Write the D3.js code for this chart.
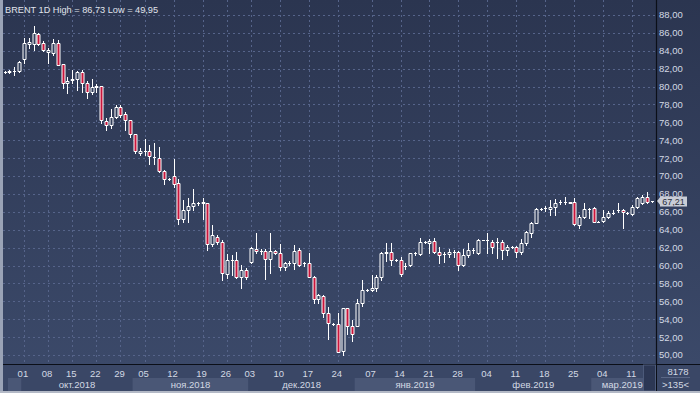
<!DOCTYPE html>
<html><head><meta charset="utf-8">
<script src="https://cdn.jsdelivr.net/npm/d3@7"></script>
<style>html,body{margin:0;padding:0;background:#323f5c;overflow:hidden}</style>
</head><body>
<svg id="c" width="700" height="393"></svg>
<script>
// ---- data ----
const title = "BRENT 1D High = 86,73 Low = 49,95";
const opens = [81.6,81.65,81.7,81.7,83.1,84.72,84.76,85.9,84.83,83.9,83.72,84.88,82.49,80.35,80.7,80.8,81.6,80.4,79.4,80.0,
80.1,76.19,75.7,76.64,77.7,76.9,76.26,74.7,72.6,72.8,72.8,72.15,72.0,70.6,69.7,70.0,69.19,65.2,66.2,66.6,
67.0,67.0,66.95,62.4,63.2,62.6,59.1,60.6,60.62,58.75,59.5,60.43,61.9,61.65,61.66,60.68,61.66,61.4,59.8,60.3,
60.3,61.7,60.25,60.24,58.75,56.22,56.6,54.74,53.5,53.45,50.4,55.2,53.25,53.24,55.85,57.3,57.3,57.5,58.68,61.4,
61.55,60.6,60.6,59.9,60.06,61.36,61.25,62.6,62.56,62.78,61.55,61.25,61.25,61.47,61.55,60.06,61.17,61.73,61.36,62.86,
62.86,62.67,62.6,62.6,61.73,62.1,62.1,61.55,62.5,63.6,64.72,66.32,66.4,66.32,66.58,67.07,67.07,67.03,67.07,64.53,
65.46,66.32,66.47,64.9,64.98,65.46,65.84,66.21,66.21,65.84,65.72,66.58,66.95,67.69,67.21];
const highs = [81.7,81.9,82.2,82.9,85.4,85.4,86.73,86.0,85.13,84.3,85.3,85.15,82.5,81.1,81.85,81.7,81.85,80.6,80.8,80.3,
80.1,76.52,77.46,77.9,77.96,77.2,76.3,74.7,73.1,74.1,73.5,73.66,73.2,70.7,69.8,71.87,69.7,67.3,67.5,68.5,
67.1,67.5,67.0,64.53,63.4,62.8,61.3,61.2,61.5,60.06,59.7,62.1,63.6,61.8,61.8,63.67,61.7,62.37,60.4,60.5,
62.3,62.0,60.4,61.36,58.8,56.8,56.7,55.32,53.6,54.65,55.3,55.3,53.9,56.3,58.38,57.4,58.94,58.9,61.55,62.48,
62.5,60.7,60.9,60.3,61.45,61.5,63.04,62.7,63.0,63.04,62.1,61.55,61.9,61.73,61.66,61.81,62.48,61.92,62.97,62.9,
63.6,62.9,63.04,62.86,62.3,62.2,62.18,63.0,63.9,64.9,66.47,66.4,66.69,67.32,67.43,67.32,67.69,67.1,67.51,65.65,
66.95,66.47,66.58,64.95,66.21,66.1,66.21,66.95,66.3,65.95,66.77,67.69,67.88,68.25,67.25];
const lows = [81.5,81.5,81.3,81.6,82.6,84.27,84.09,84.6,83.94,82.6,83.53,82.4,79.8,79.24,80.36,79.6,79.4,78.7,79.2,79.4,
75.9,75.15,75.33,76.5,76.6,75.1,74.4,72.55,72.3,72.3,71.4,71.4,70.5,69.1,69.55,68.8,64.66,64.9,64.9,66.2,
66.8,65.2,61.73,62.2,62.4,58.4,58.6,58.9,58.6,57.45,58.5,60.3,61.4,61.3,58.45,59.13,61.3,59.5,59.5,60.1,
59.6,60.0,60.0,58.7,55.85,55.85,54.28,51.8,53.4,50.3,49.95,52.3,51.56,53.2,55.5,57.2,57.1,57.1,58.4,60.5,
60.1,60.5,58.8,59.6,59.94,61.2,61.17,62.5,61.4,61.36,60.24,60.43,60.98,60.98,59.5,59.94,60.98,61.36,61.3,62.8,
61.36,61.36,60.79,60.7,61.17,62.0,60.98,61.3,62.3,63.23,64.72,66.25,66.1,65.65,65.65,66.84,66.84,66.95,64.53,64.23,
65.28,65.28,64.83,64.85,64.9,65.28,65.72,66.03,64.16,65.72,65.65,66.4,66.84,67.03,67.15];
const closes = [81.62,81.7,81.75,82.7,84.9,84.94,85.95,84.8,84.09,84.05,84.88,82.41,80.36,80.6,80.9,81.6,80.36,79.4,80.0,80.05,
76.26,75.71,76.56,77.7,76.82,76.26,74.66,72.8,72.8,72.85,72.2,72.1,70.6,69.63,69.72,69.1,65.16,66.2,66.6,66.95,
67.02,67.05,62.4,63.41,62.6,59.13,60.6,60.62,58.75,59.5,58.7,61.92,61.6,61.67,60.68,61.66,61.4,59.8,60.24,60.32,
61.66,60.1,60.27,58.75,56.22,56.7,54.74,53.54,53.52,50.37,55.21,53.25,52.3,55.85,57.3,57.32,57.5,58.68,61.36,61.55,
60.62,60.62,59.05,59.95,61.36,61.38,62.6,62.62,62.78,61.47,61.17,61.27,61.47,61.49,60.06,61.17,61.73,61.75,62.86,62.88,
62.88,62.1,62.62,61.73,62.1,62.12,61.55,62.5,63.7,64.72,66.32,66.34,66.42,66.58,66.95,67.09,67.09,67.05,64.6,65.46,
66.32,66.34,64.9,64.92,65.46,65.84,65.86,66.23,65.95,65.86,66.58,67.51,67.69,67.14,67.21];
const weekTicks  = [4,9,14,19,24,29,35,41,46,51,57,63,69,76,82,88,94,100,106,112,118,124,130];
const weekLabels = ["01","08","15","22","29","05","12","19","26","03","10","17","24","07","14","21","28","04","11","18","25","04","11"];
const monthStarts = [0.2,3.5,26.5,50.5,72.5,97.5,121.5];
const monthLabels = ["","окт.2018","ноя.2018","дек.2018","янв.2019","фев.2019","мар.2019"];
const yTicks = d3.range(50, 89, 2);
const lastPrice = 67.21;
const cornerTexts = ["8178", ">135<"];

// ---- layout ----
const W = 700, H = 393, pL = 3, pR = 656, pT = 0, pB = 364;
const svg = d3.select("#c");
const n = closes.length;
const x = d3.scaleLinear().domain([0, n - 1]).range([4.6, 651.6]);
const y = d3.scaleLinear().domain([50, 88]).range([355, 15]);
const fmt = v => v.toFixed(2).replace(".", ",");
const font = "'Liberation Sans', Arial, sans-serif";

const defs = svg.append("defs");
const g1 = defs.append("linearGradient").attr("id", "bg").attr("x1", 0).attr("y1", 0).attr("x2", 0).attr("y2", 1);
g1.append("stop").attr("offset", 0).attr("stop-color", "#2b3550");
g1.append("stop").attr("offset", 1).attr("stop-color", "#3b4969");
defs.append("clipPath").attr("id", "pc").append("rect").attr("x", pL).attr("y", pT).attr("width", pR - pL).attr("height", pB - pT);
defs.append("clipPath").attr("id", "mc").append("rect").attr("x", 0).attr("y", pB).attr("width", 643).attr("height", H - pB);

svg.append("rect").attr("x", 0).attr("y", 0).attr("width", W).attr("height", pB).attr("fill", "url(#bg)");

// bottom axis rows
svg.append("rect").attr("x", 0).attr("y", pB).attr("width", W).attr("height", H - pB).attr("fill", "#3a4766");
const bandEdges = monthStarts.map(s => x(s)).concat([pR]);
monthLabels.forEach((lab, k) => {
  const a = k === 0 ? 8 : bandEdges[k], b = bandEdges[k + 1];
  svg.append("rect").attr("x", a).attr("y", 378).attr("width", b - a).attr("height", 13)
    .attr("fill", k % 2 === 0 ? "#4a5776" : "#3a4766");
});

// gridlines
const grid = svg.append("g").attr("stroke", "#56648a").attr("stroke-width", 1).attr("stroke-dasharray", "2,3");
yTicks.forEach(v => {
  const yy = Math.round(y(v)) + 0.5;
  grid.append("line").attr("x1", pL).attr("x2", pR).attr("y1", yy).attr("y2", yy);
});
weekTicks.forEach(i => {
  const xx = Math.round(x(i)) + 0.5;
  grid.append("line").attr("x1", xx).attr("x2", xx).attr("y1", pT).attr("y2", pB);
});

// candles
const cg = svg.append("g").attr("clip-path", "url(#pc)");
d3.range(n).forEach(i => {
  const c = Math.round(x(i)) + 0.5;
  const yo = Math.round(y(opens[i])) + 0.5, yc = Math.round(y(closes[i])) + 0.5;
  const yh = Math.round(y(highs[i])) + 0.5, yl = Math.round(y(lows[i])) + 0.5;
  const up = closes[i] >= opens[i];
  cg.append("line").attr("x1", c).attr("x2", c).attr("y1", yh - 0.5).attr("y2", yl + 0.5)
    .attr("stroke", "#ffffff").attr("stroke-width", 1);
  const top = Math.min(yo, yc), bot = Math.max(yo, yc);
  const halfW = 1.5;
  cg.append("path")
    .attr("d", `M${c - halfW},${top}H${c + halfW}V${bot}H${c - halfW}Z`)
    .attr("fill", up ? "#323f5c" : "#c8163c")
    .attr("stroke", "#ffffff").attr("stroke-width", 1);
});

// axis lines
svg.append("line").attr("x1", pR + 0.5).attr("x2", pR + 0.5).attr("y1", 0).attr("y2", H).attr("stroke", "#0b0f18").attr("stroke-width", 1.2);
svg.append("line").attr("x1", 0).attr("x2", W).attr("y1", pB + 0.5).attr("y2", pB + 0.5).attr("stroke", "#0b0f18").attr("stroke-width", 1.2);

// right axis labels
const yl = svg.append("g").attr("font-family", font).attr("font-size", 9.5).attr("fill", "#d3d9e4");
yTicks.forEach(v => {
  yl.append("text").attr("x", 659).attr("y", y(v) + 3.4).text(fmt(v));
});

// week labels
const xl = svg.append("g").attr("font-family", font).attr("font-size", 9.5).attr("fill", "#d3d9e4").attr("text-anchor", "middle");
weekTicks.forEach((i, k) => {
  xl.append("text").attr("x", x(i) - 1).attr("y", 376.5).text(weekLabels[k]);
});
const ml = svg.append("g").attr("clip-path", "url(#mc)").attr("font-family", font).attr("font-size", 9.5)
  .attr("fill", "#d3d9e4").attr("text-anchor", "middle");
monthLabels.forEach((lab, k) => {
  if (!lab) return;
  const a = bandEdges[k], b = bandEdges[k + 1];
  ml.append("text").attr("x", k === 6 ? a + 31 : (a + b) / 2).attr("y", 387.5).text(lab);
});

// scroll strip at the right end of the time axis
svg.append("rect").attr("x", 643.5).attr("y", pB + 1).attr("width", 12).attr("height", 26)
  .attr("fill", "#2c3754").attr("stroke", "#4c5a7a").attr("stroke-width", 1);

// corner box
svg.append("rect").attr("x", pR + 1).attr("y", pB + 1).attr("width", W - pR - 1).attr("height", H - pB - 3).attr("fill", "#3a4766");
svg.append("line").attr("x1", 661).attr("x2", 690).attr("y1", 377.5).attr("y2", 377.5).attr("stroke", "#5a6786");
const cb = svg.append("g").attr("font-family", font).attr("font-size", 9.5).attr("fill", "#d3d9e4").attr("text-anchor", "middle");
cb.append("text").attr("x", 678).attr("y", 375).text(cornerTexts[0]);
cb.append("text").attr("x", 675.5).attr("y", 387.5).text(cornerTexts[1]);

// last price tag
const py = y(lastPrice);
svg.append("path").attr("d", `M${pR + 1},${py} L${pR + 5},${py - 5} L${pR + 5},${py + 5} Z`).attr("fill", "#c9cdd6");
svg.append("rect").attr("x", pR + 4).attr("y", py - 4.5).attr("width", 27).attr("height", 10).attr("fill", "#c9cdd6");
svg.append("text").attr("x", pR + 17.5).attr("y", py + 3.6).attr("text-anchor", "middle")
  .attr("font-family", font).attr("font-size", 9).attr("fill", "#2a2f3a").text(fmt(lastPrice));

// title
svg.append("text").attr("x", 5).attr("y", 12.5).attr("font-family", font).attr("font-size", 9.2)
  .attr("fill", "#e0e4ec").text(title);

// frame
svg.append("rect").attr("x", 0).attr("y", 0).attr("width", 3).attr("height", H).attr("fill", "#9aa3b6");
svg.append("rect").attr("x", 0).attr("y", H - 2).attr("width", W).attr("height", 2).attr("fill", "#b3b9c6");
</script>
</body></html>
